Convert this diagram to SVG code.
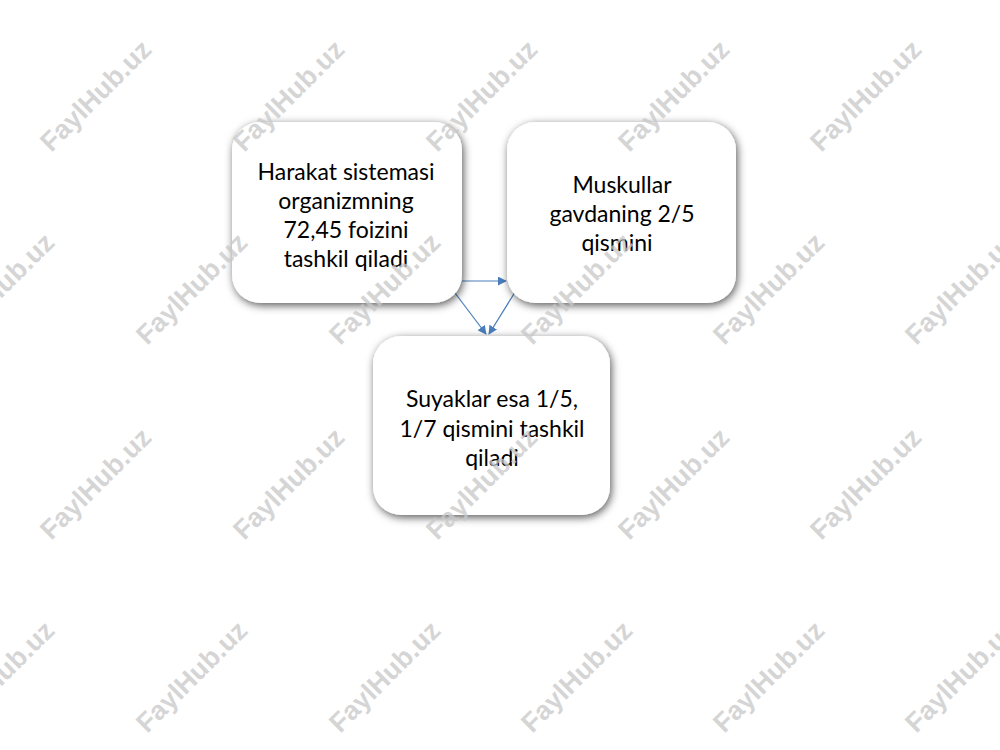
<svg xmlns="http://www.w3.org/2000/svg" width="1000" height="750" viewBox="0 0 1000 750">
<defs>
  <filter id="sh" x="-20%" y="-20%" width="140%" height="140%">
    <feDropShadow dx="1.5" dy="2.5" stdDeviation="4" flood-color="#000" flood-opacity="0.65"/>
  </filter>
  <marker id="arr" viewBox="0 0 10 10" refX="9" refY="5" markerWidth="9" markerHeight="9" markerUnits="userSpaceOnUse" orient="auto">
    <path d="M0,0 L10,5 L0,10 z" fill="#4A7EBB"/>
  </marker>
</defs>
<style>
  .box { fill: #ffffff; filter: url(#sh); }
  .t { font-family: Lato, "Liberation Sans", sans-serif; font-size: 23px; fill: #000; text-anchor: middle; }
  .c { stroke: #4A7EBB; stroke-width: 1.2; fill: none; marker-end: url(#arr); }
  .wm { font-family: "Liberation Sans", Arial, sans-serif; font-weight: bold; font-size: 27px; fill: #c8c8c8; fill-opacity: 0.75; text-anchor: middle; dominant-baseline: middle; }
</style>
<rect width="1000" height="750" fill="#ffffff"/>

<g id="connectors">
  <line class="c" x1="462" y1="281" x2="506" y2="281"/>
  <line class="c" x1="452" y1="289" x2="486" y2="334"/>
  <line class="c" x1="517" y1="289" x2="489" y2="334"/>
</g>

<g id="node1">
  <rect class="box" x="232" y="122" width="230" height="181" rx="28"/>
  <text class="t" x="346" y="180">Harakat sistemasi</text>
  <text class="t" x="346" y="209">organizmning</text>
  <text class="t" x="346" y="238">72,45 foizini</text>
  <text class="t" x="346" y="267">tashkil qiladi</text>
</g>

<g id="node2">
  <rect class="box" x="507" y="122" width="229" height="181" rx="28"/>
  <text class="t" x="622" y="193">Muskullar</text>
  <text class="t" x="622" y="222">gavdaning 2/5</text>
  <text class="t" x="617" y="251">qismini</text>
</g>

<g id="node3">
  <rect class="box" x="373" y="336" width="237" height="179" rx="28"/>
  <text class="t" x="492" y="407">Suyaklar esa 1/5,</text>
  <text class="t" x="492" y="437">1/7 qismini tashkil</text>
  <text class="t" x="492" y="466">qiladi</text>
</g>

<g id="watermarks">
  <text class="wm" transform="translate(97,97) rotate(-45)">FaylHub.uz</text>
  <text class="wm" transform="translate(290,97) rotate(-45)">FaylHub.uz</text>
  <text class="wm" transform="translate(483,97) rotate(-45)">FaylHub.uz</text>
  <text class="wm" transform="translate(675,97) rotate(-45)">FaylHub.uz</text>
  <text class="wm" transform="translate(867,97) rotate(-45)">FaylHub.uz</text>
  <text class="wm" transform="translate(0,290) rotate(-45)">FaylHub.uz</text>
  <text class="wm" transform="translate(193,290) rotate(-45)">FaylHub.uz</text>
  <text class="wm" transform="translate(386,290) rotate(-45)">FaylHub.uz</text>
  <text class="wm" transform="translate(578,290) rotate(-45)">FaylHub.uz</text>
  <text class="wm" transform="translate(770,290) rotate(-45)">FaylHub.uz</text>
  <text class="wm" transform="translate(962,290) rotate(-45)">FaylHub.uz</text>
  <text class="wm" transform="translate(97,485) rotate(-45)">FaylHub.uz</text>
  <text class="wm" transform="translate(290,485) rotate(-45)">FaylHub.uz</text>
  <text class="wm" transform="translate(483,485) rotate(-45)">FaylHub.uz</text>
  <text class="wm" transform="translate(675,485) rotate(-45)">FaylHub.uz</text>
  <text class="wm" transform="translate(867,485) rotate(-45)">FaylHub.uz</text>
  <text class="wm" transform="translate(0,678) rotate(-45)">FaylHub.uz</text>
  <text class="wm" transform="translate(193,678) rotate(-45)">FaylHub.uz</text>
  <text class="wm" transform="translate(386,678) rotate(-45)">FaylHub.uz</text>
  <text class="wm" transform="translate(578,678) rotate(-45)">FaylHub.uz</text>
  <text class="wm" transform="translate(770,678) rotate(-45)">FaylHub.uz</text>
  <text class="wm" transform="translate(962,678) rotate(-45)">FaylHub.uz</text>
</g>
</svg>
